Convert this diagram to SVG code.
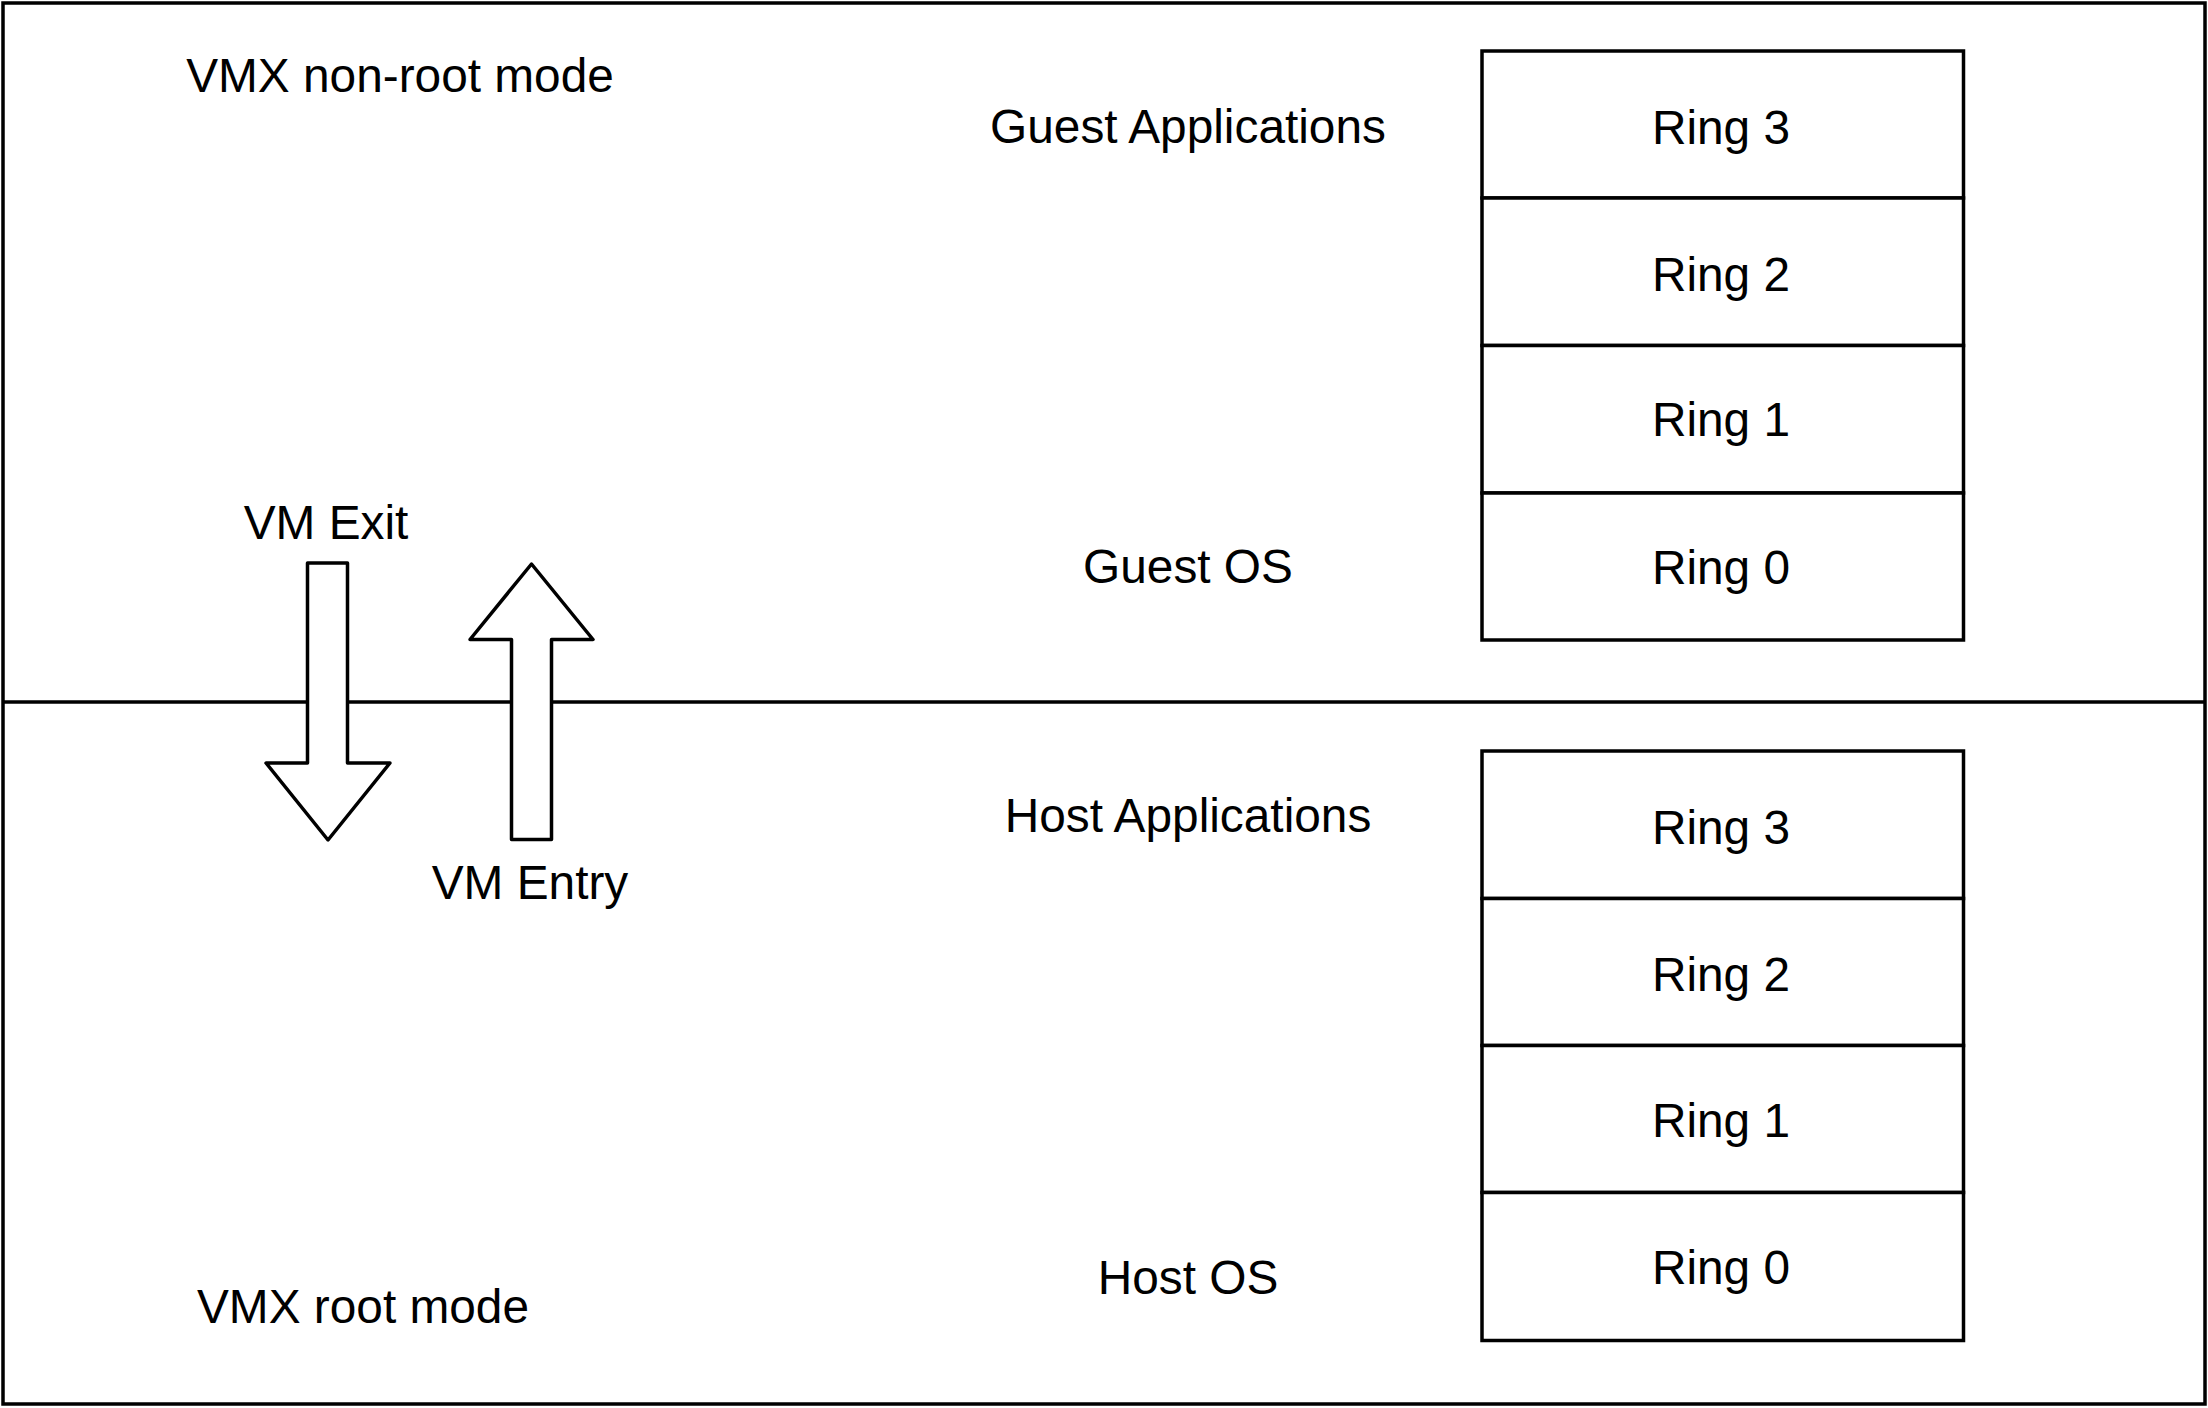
<svg xmlns="http://www.w3.org/2000/svg" width="2208" height="1408" viewBox="0 0 2208 1408">
<style>
.ln{fill:none;stroke:#000;stroke-width:3.5}
.bx{fill:#fff;stroke:#000;stroke-width:3.5}
.t{font-family:"Liberation Sans",Arial,sans-serif;font-size:47.8px;fill:#000;text-anchor:middle}
</style>
<rect x="0" y="0" width="2208" height="1408" fill="#fff"/>
<g id="frame">
<rect class="ln" x="3" y="3" width="2202" height="1401"/>
</g>
<g id="divider">
<line class="ln" x1="3" y1="702" x2="2205" y2="702"/>
</g>
<g id="label-nonroot"><text class="t" x="400" y="92">VMX non-root mode</text></g>
<g id="label-root"><text class="t" x="363" y="1323">VMX root mode</text></g>
<g id="label-guest-apps"><text class="t" x="1188" y="143">Guest Applications</text></g>
<g id="label-guest-os"><text class="t" x="1188" y="583">Guest OS</text></g>
<g id="label-host-apps"><text class="t" x="1188" y="832">Host Applications</text></g>
<g id="label-host-os"><text class="t" x="1188" y="1294">Host OS</text></g>
<g id="guest-ring3"><rect class="bx" x="1482" y="51" width="481.5" height="147"/><text class="t" x="1721" y="143.5">Ring 3</text></g>
<g id="guest-ring2"><rect class="bx" x="1482" y="198" width="481.5" height="147.5"/><text class="t" x="1721" y="291">Ring 2</text></g>
<g id="guest-ring1"><rect class="bx" x="1482" y="345.5" width="481.5" height="147.5"/><text class="t" x="1721" y="436">Ring 1</text></g>
<g id="guest-ring0"><rect class="bx" x="1482" y="493" width="481.5" height="147"/><text class="t" x="1721" y="584">Ring 0</text></g>
<g id="host-ring3"><rect class="bx" x="1482" y="751" width="481.5" height="147.5"/><text class="t" x="1721" y="844">Ring 3</text></g>
<g id="host-ring2"><rect class="bx" x="1482" y="898.5" width="481.5" height="147"/><text class="t" x="1721" y="991">Ring 2</text></g>
<g id="host-ring1"><rect class="bx" x="1482" y="1045.5" width="481.5" height="147"/><text class="t" x="1721" y="1137">Ring 1</text></g>
<g id="host-ring0"><rect class="bx" x="1482" y="1192.5" width="481.5" height="148"/><text class="t" x="1721" y="1284">Ring 0</text></g>
<g id="connectors">
<g id="vm-exit">
<polygon class="bx" stroke-linejoin="round" points="307.5,563 347.5,563 347.5,763 390,763 328,840 266,763 307.5,763"/>
<text class="t" x="326" y="539">VM Exit</text>
</g>
<g id="vm-entry">
<polygon class="bx" stroke-linejoin="round" points="531.5,564 593,639.5 551.5,639.5 551.5,839.5 511.5,839.5 511.5,639.5 470,639.5"/>
<text class="t" x="530" y="899">VM Entry</text>
</g>
</g>
</svg>
